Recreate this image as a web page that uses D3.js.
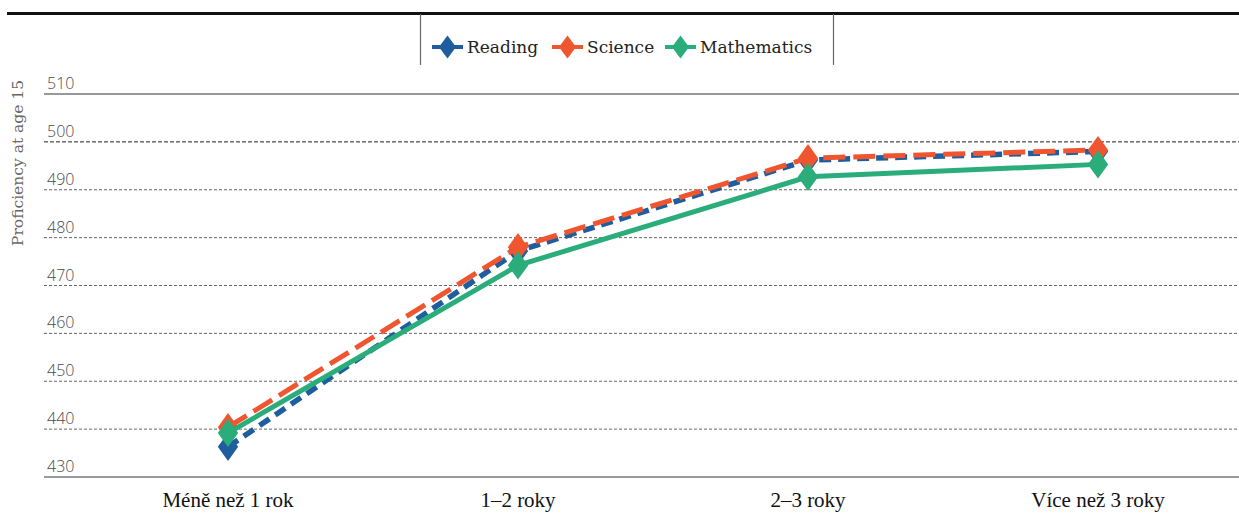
<!DOCTYPE html>
<html><head><meta charset="utf-8">
<script src="https://cdn.jsdelivr.net/npm/d3@7"></script>
<style>html,body{margin:0;padding:0;background:#fff;}svg{display:block;}</style>
</head><body>
<svg id="chart" width="1239" height="513"></svg>
<script>
const categories = ["Méně než 1 rok", "1–2 roky", "2–3 roky", "Více než 3 roky"];
const reading = [436.3, 477.2, 496.2, 498.0];
const science = [440.4, 478.0, 496.6, 498.3];
const mathematics = [439.2, 474.2, 492.7, 495.3];
const yTicks = [430, 440, 450, 460, 470, 480, 490, 500, 510];
const seriesNames = ["Reading", "Science", "Mathematics"];

const series = [
  {name: seriesNames[0], values: reading, color: "#1f5e9e", dash: "12,7", width: 5.5},
  {name: seriesNames[1], values: science, color: "#ef5630", dash: "22,8", width: 5},
  {name: seriesNames[2], values: mathematics, color: "#2aad7a", dash: null, width: 5}
];

const svg = d3.select("#chart");
const W = 1239, H = 513;
const plot = {left: 44, right: 1239, top: 94, bottom: 477};

const x = d3.scalePoint().domain(categories).range([228, 1098]);
const y = d3.scaleLinear().domain([430, 510]).range([plot.bottom, plot.top]);

// top rule
svg.append("line").attr("x1", 7).attr("x2", W).attr("y1", 13.5).attr("y2", 13.5)
  .attr("stroke", "#111").attr("stroke-width", 3);

// legend box verticals
svg.append("line").attr("x1", 420.5).attr("x2", 420.5).attr("y1", 14).attr("y2", 65)
  .attr("stroke", "#666").attr("stroke-width", 1.2);
svg.append("line").attr("x1", 833.5).attr("x2", 833.5).attr("y1", 14).attr("y2", 65)
  .attr("stroke", "#666").attr("stroke-width", 1.2);

// gridlines
const grid = svg.append("g");
yTicks.forEach(t => {
  const yy = y(t);
  const ln = grid.append("line").attr("x1", plot.left).attr("x2", plot.right)
    .attr("y1", yy).attr("y2", yy);
  if (t === 510) ln.attr("stroke", "#333").attr("stroke-width", 1.2);
  else if (t === 430) ln.attr("stroke", "#999").attr("stroke-width", 2);
  else if (t === 500) ln.attr("stroke", "#222").attr("stroke-width", 1).attr("stroke-dasharray", "4,2");
  else ln.attr("stroke", "#666").attr("stroke-width", 1).attr("stroke-dasharray", "3,2");
  grid.append("text").attr("x", 47).attr("y", yy - 5)
    .attr("font-family", "Open Sans, sans-serif").attr("font-weight", 300)
    .attr("font-size", 16).attr("fill", "#4a4a4a").text(t);
});

// y title
svg.append("text").attr("transform", `translate(23,163) rotate(-90)`)
  .attr("text-anchor", "middle").attr("font-family", "DejaVu Serif, serif")
  .attr("font-size", 15.5).attr("fill", "#666").text("Proficiency at age 15");

// x labels
svg.append("g").selectAll("text").data(categories).join("text")
  .attr("x", d => x(d)).attr("y", 507).attr("text-anchor", "middle")
  .attr("font-family", "Liberation Serif, serif").attr("font-size", 21)
  .attr("fill", "#111").text(d => d);

const diamond = d3.symbol().type(d3.symbolDiamond).size(230);
const line = d3.line().x((d, i) => x(categories[i])).y(d => y(d));

series.forEach(s => {
  const g = svg.append("g");
  const p = g.append("path").attr("d", line(s.values)).attr("fill", "none")
    .attr("stroke", s.color).attr("stroke-width", s.width);
  if (s.dash) p.attr("stroke-dasharray", s.dash);
  g.selectAll("path.m").data(s.values).join("path").attr("class", "m")
    .attr("transform", (d, i) => `translate(${x(categories[i])},${y(d)}) scale(1.25,1)`)
    .attr("d", diamond).attr("fill", s.color);
});

// legend
const legX = [432, 552, 665];
const legend = svg.append("g");
series.forEach((s, i) => {
  const lg = legend.append("g").attr("transform", `translate(${legX[i]},47)`);
  lg.append("line").attr("x1", 0).attr("x2", 31).attr("y1", 0).attr("y2", 0)
    .attr("stroke", s.color).attr("stroke-width", 4);
  lg.append("path").attr("d", d3.symbol().type(d3.symbolDiamond).size(150)())
    .attr("transform", "translate(15.5,0) scale(1.3,1)").attr("fill", s.color);
  lg.append("text").attr("x", 35).attr("y", 6).attr("font-family", "DejaVu Serif, serif")
    .attr("font-size", 17).attr("fill", "#222").text(s.name);
});
</script>
</body></html>
